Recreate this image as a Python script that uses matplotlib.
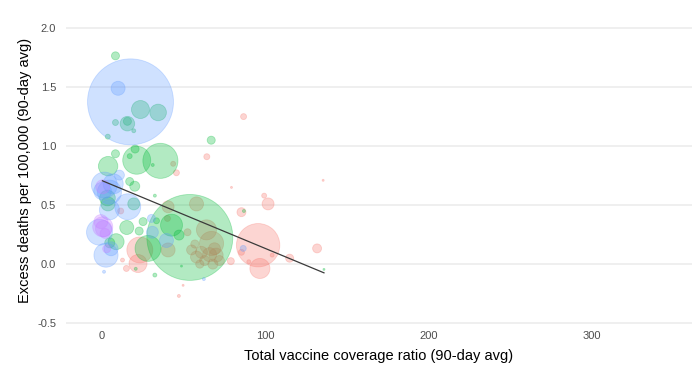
import numpy as np
import matplotlib
matplotlib.use("Agg")
import matplotlib.pyplot as plt

plt.rcParams["font.family"] = ["Liberation Sans", "DejaVu Sans"]

# x: total vaccine coverage ratio, y: excess deaths per 100k, pop: bubble weight (millions)
red_x = [86.8, 64.3, 43.7, 45.7, 95.7, 96.8, 23.3, 22.2, 58.0, 64.1, 67.2, 101.8, 99.4,
         85.5, 115.0, 79.4, 40.6, 40.6, 15.1, 11.6, 12.7, 49.8, 47.2, 79.0, 85.5, 90.0,
         104.3, 52.5, 40.2, 135.5, 131.8, 55.0, 58.0, 61.0, 63.0, 66.0, 69.0, 72.0,
         60.0, 68.0, 57.0, 70.0]
red_y = [1.25, 0.91, 0.85, 0.774, 0.16, -0.037, 0.12, 0.005, 0.51, 0.29, 0.175, 0.51, 0.58,
         0.44, 0.05, 0.65, 0.486, 0.12, -0.037, 0.45, 0.034, -0.18, -0.27, 0.025, 0.10, 0.02,
         0.076, 0.27, 0.387, 0.71, 0.133, 0.12, 0.06, 0.10, 0.03, 0.08, 0.13, 0.03,
         0.0, 0.0, 0.17, 0.076]
red_pop = [1.6, 1.6, 1.1, 1.6, 84, 18, 30, 14.5, 8.8, 18, 26, 6.4, 1.1,
           3.6, 2.9, 0.18, 6.4, 8.8, 1.6, 1.6, 0.7, 0.18, 0.4, 2.2, 1.6, 0.7,
           0.7, 2.2, 1.6, 0.18, 3.6, 4.5, 6.4, 6.4, 4.5, 8.8, 6.4, 4.5,
           3.0, 4.5, 3.0, 8.8]

green_x = [8.4, 23.7, 34.5, 15.7, 15.7, 8.4, 19.6, 3.7, 67.0, 21.4, 35.9, 20.4, 8.4,
           17.1, 3.9, 31.2, 53.9, 42.7, 28.3, 25.3, 22.9, 15.3, 19.6, 17.1, 20.2,
           3.8, 4.9, 8.8, 47.3, 32.5, 32.5, 33.5, 20.8, 48.8, 87.0, 136.0, 3.5]
green_y = [1.765, 1.31, 1.285, 1.19, 1.21, 1.20, 1.13, 1.08, 1.05, 0.88, 0.875, 0.975, 0.935,
           0.915, 0.83, 0.84, 0.226, 0.33, 0.133, 0.36, 0.28, 0.31, 0.51, 0.70, 0.66,
           0.51, 0.18, 0.19, 0.246, -0.093, 0.58, 0.367, -0.04, -0.017, 0.45, -0.045, 0.56]
green_pop = [2.9, 14.5, 12.3, 9.5, 2.9, 1.6, 0.7, 1.1, 2.9, 35, 55, 2.9, 2.9,
             1.1, 16.8, 0.4, 330, 21.6, 30, 2.9, 2.9, 8.8, 6.4, 2.9, 4.5,
             8.8, 4.5, 11.4, 4.5, 0.7, 0.4, 1.6, 0.4, 0.18, 0.4, 0.18, 11]

blue_x = [17.6, 10.0, 1.6, 4.7, 10.8, 15.9, -1.4, 2.6, 5.7, 39.6, 31.0, 30.4, 1.4,
          62.5, 86.6, 7.0, 4.7, 0.5]
blue_y = [1.375, 1.49, 0.67, 0.61, 0.754, 0.486, 0.27, 0.076, 0.13, 0.20, 0.27, 0.387, -0.065,
          -0.127, 0.133, 0.68, 0.46, 0.62]
blue_pop = [330, 8.8, 30, 26, 4.5, 30, 30, 26, 8.8, 8.8, 6.4, 2.9, 0.4,
            0.4, 1.6, 18, 18, 14]

purple_x = [0.6, -0.5, 2.0, 0.6, 3.0, 1.2]
purple_y = [0.316, 0.36, 0.26, 0.655, 0.13, 0.30]
purple_pop = [18, 8.8, 4.5, 8.8, 2.9, 12]

# fitted trend line end points
trend_x = [0.4, 136.0]
trend_y = [0.706, -0.074]

fig = plt.figure(figsize=(7, 3.67), dpi=100)
ax = fig.add_axes([0.094, 0.110, 0.894, 0.852])

size_k = 11.6
groups = [
    (red_x, red_y, red_pop, "#F8766D"),
    (green_x, green_y, green_pop, "#00BA38"),
    (blue_x, blue_y, blue_pop, "#619CFF"),
    (purple_x, purple_y, purple_pop, "#C77CFF"),
]
for gx, gy, gp, col in groups:
    ax.scatter(gx, gy, s=np.array(gp) * size_k, color=col, alpha=0.3,
               edgecolors=col, linewidths=0.6, zorder=2)

ax.plot(trend_x, trend_y, color="#3a3a3a", lw=0.9, zorder=3)

ax.set_xlim(-22, 361)
ax.set_ylim(-0.53, 2.12)
ax.set_xticks([0, 100, 200, 300])
ax.set_yticks([-0.5, 0.0, 0.5, 1.0, 1.5, 2.0])
ax.set_yticklabels(["-0.5", "0.0", "0.5", "1.0", "1.5", "2.0"])
ax.grid(axis="y", color="#EBEBEB", lw=1.1, zorder=0)
ax.set_axisbelow(True)
for sp in ax.spines.values():
    sp.set_visible(False)
ax.tick_params(axis="both", length=0, labelsize=8, colors="#4D4D4D")
ax.tick_params(axis="y", pad=7)
ax.tick_params(axis="x", pad=3)

ax.set_xlabel("Total vaccine coverage ratio (90-day avg)", fontsize=10.5, labelpad=6)
ax.set_ylabel("Excess deaths per 100,000 (90-day avg)", fontsize=10.5, labelpad=4)

fig.savefig("out.png", dpi=100)
